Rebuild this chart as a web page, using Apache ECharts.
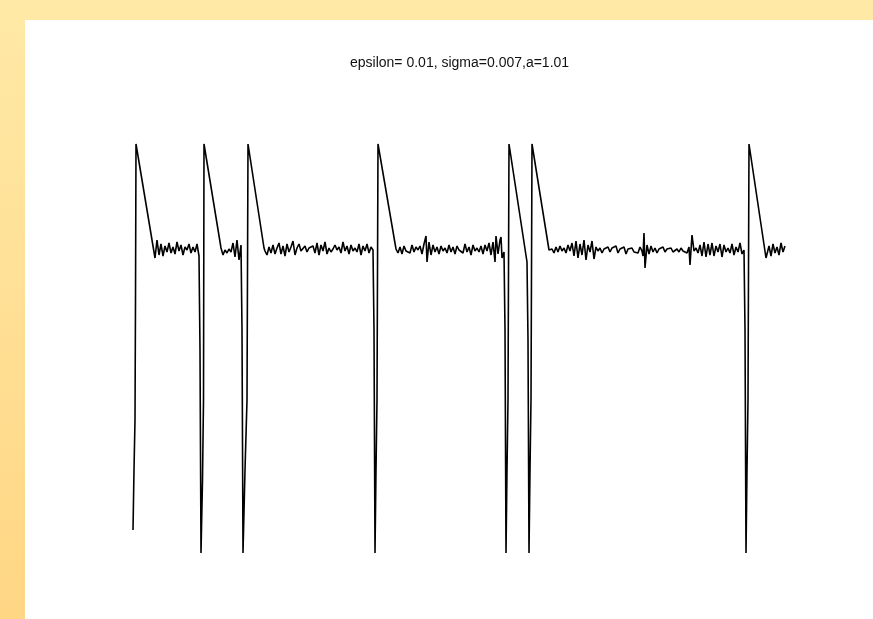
<!DOCTYPE html>
<html>
<head>
<meta charset="utf-8">
<script src="https://cdn.jsdelivr.net/npm/echarts@6/dist/echarts.min.js"></script>
<style>
  html, body { margin: 0; padding: 0; }
  body { width: 873px; height: 619px; background: linear-gradient(to bottom, #ffe9a6, #ffd684); position: relative; overflow: hidden; }
  .paper { position: absolute; left: 25px; top: 20px; right: 0; bottom: 0; background: #fff; }
  #chart { position: absolute; left: 0; top: 0; width: 873px; height: 619px; }
</style>
</head>
<body>
<div class="paper"></div>
<div id="chart"></div>
<script>
// time steps and membrane variable
const time = [
  0, 1, 2, 2.5, 3, 20,
  22, 24, 26, 28, 30, 32, 34, 36, 38, 40, 42, 44, 46, 48, 50, 52, 54, 56, 58, 60, 62, 64, 66,
  67, 68, 69.5, 70.5, 71, 88,
  90, 92, 94, 96, 98, 100, 102, 104, 106, 108,
  109, 110, 112, 114, 115, 131,
  132, 134, 136, 138, 140, 142, 144, 146, 148, 150, 152, 154, 156, 158, 160, 162, 164, 166, 168, 170,
  172, 174, 176, 178, 180, 182, 184, 186, 188, 190, 192, 194, 196, 198, 200, 202, 204, 206, 208, 210,
  212, 214, 216, 218, 220, 222, 224, 226, 228, 230, 232, 234, 236, 238, 240,
  241, 242, 243, 244, 245, 263,
  265, 267, 269, 271, 273, 275, 277, 279, 281, 283, 285, 287, 289, 291, 293, 294, 296, 298, 300, 302,
  304, 306, 308, 310, 312, 314, 316, 318, 320, 322, 324, 326, 328, 330, 332, 334, 336, 338, 340, 342,
  344, 346, 348, 350, 352, 354, 356, 358, 360, 362, 363, 365, 367, 368, 369, 371,
  372, 373, 374, 375, 376, 394,
  395, 396, 397, 398, 399, 416,
  419, 421, 423, 425, 427, 429, 431, 433, 435, 437, 439, 441, 443, 445, 447, 449, 451, 453, 455, 457,
  459, 461, 463, 465, 467, 469, 471, 473, 475, 477, 479, 481, 483, 485, 487, 489, 491, 493, 495, 497,
  499, 501, 503, 505, 507, 509, 510, 511, 512, 514, 516, 518, 520, 522, 524, 526, 528, 530, 532, 534,
  536, 538, 540, 542, 544, 546, 548, 550, 552, 554, 556, 557, 559, 561, 563, 565, 567, 569, 571, 573,
  575, 577, 579, 581, 583, 585, 587, 589, 591, 593, 595, 597, 599, 601, 603, 605, 607, 609, 611,
  612, 613, 614, 615, 616, 633,
  636, 638, 640, 642, 644, 646, 648, 650, 652
];
const u = [
  -1.80, -1.20, -0.70, 0.50, 2.06, 1.04,
  0.92, 1.10, 0.95, 1.06, 0.94, 1.04, 0.98, 1.07, 0.97, 1.03, 0.96, 1.08, 0.99, 1.05, 0.95, 1.03, 1.00, 1.06, 0.97, 1.03, 0.98, 1.06, 0.94,
  0.00, -2.03, -1.30, -0.50, 2.06, 1.02,
  0.95, 1.00, 0.97, 1.01, 0.98, 1.07, 0.93, 1.10, 0.90, 1.05,
  0.20, -2.03, -1.20, -0.50, 2.06, 1.02,
  0.99, 0.95, 1.03, 0.97, 1.05, 0.96, 1.02, 1.07, 0.96, 1.04, 0.94, 1.06, 0.98, 1.03, 1.09, 0.95, 1.02, 1.06, 0.99, 1.01,
  1.04, 0.98, 1.02, 1.00, 1.04, 0.97, 1.07, 0.95, 1.05, 0.99, 1.08, 0.96, 1.02, 0.98, 1.01, 1.05, 1.00, 1.03, 0.97, 1.08,
  0.99, 1.04, 0.96, 1.05, 0.99, 1.02, 0.98, 1.06, 0.95, 1.04, 0.99, 1.06, 0.97, 1.03, 1.00,
  0.20, -2.03, -1.20, -0.50, 2.06, 1.01,
  0.97, 1.03, 0.96, 1.04, 0.99, 1.01, 0.97, 1.05, 0.98, 1.03, 1.00, 1.04, 0.96, 1.06, 1.14, 0.88, 1.08, 0.95, 1.05, 0.98,
  1.03, 0.96, 1.04, 0.99, 1.02, 0.97, 1.05, 0.98, 1.03, 0.96, 1.04, 1.00, 1.02, 0.97, 1.06, 0.98, 1.03, 0.95, 1.05, 0.99,
  1.02, 0.98, 1.04, 0.96, 1.05, 0.99, 1.07, 0.95, 1.08, 0.88, 1.14, 0.96, 1.10, 1.13, 0.92, 0.98,
  0.20, -2.03, -1.20, -0.50, 2.06, 0.88,
  0.10, -2.03, -1.20, -0.50, 2.06, 1.00,
  1.01, 0.97, 1.03, 0.98, 1.04, 0.99, 1.02, 0.97, 1.05, 0.99, 1.07, 0.94, 1.09, 0.92, 1.06, 0.95, 1.10, 0.90, 1.05, 0.98,
  1.09, 0.91, 1.03, 0.99, 1.02, 0.97, 1.01, 0.99, 1.03, 0.98, 1.02, 1.00, 1.04, 0.97, 1.01, 0.99, 1.03, 0.96, 1.01, 0.99,
  1.02, 0.98, 1.00, 0.97, 1.03, 0.99, 0.94, 1.17, 0.82, 1.05, 0.96, 1.04, 0.98, 1.02, 0.97, 1.01, 0.99, 1.03, 0.98, 1.01,
  0.99, 1.02, 0.98, 1.00, 1.01, 0.98, 1.02, 0.99, 1.01, 0.97, 1.03, 0.85, 1.15, 0.99, 1.02, 0.97, 1.05, 0.94, 1.08, 0.93,
  1.06, 0.95, 1.07, 0.94, 1.04, 0.98, 1.06, 0.93, 1.05, 0.98, 1.02, 0.97, 1.06, 0.95, 1.03, 0.98, 1.07, 0.96, 1.00,
  0.20, -2.03, -1.20, -0.50, 2.06, 0.92,
  1.04, 0.94, 1.06, 0.97, 1.03, 0.95, 1.07, 0.98, 1.04
];
const titleText = 'epsilon= 0.01, sigma=0.007,a=1.01';

let chart = echarts.init(document.getElementById('chart'))
chart.setOption({
  animation: false,
  title: {
    text: titleText,
    left: 345,
    top: 51,
    textStyle: {
      fontFamily: 'Liberation Sans, Arial, sans-serif',
      fontSize: 14,
      fontWeight: 'normal',
      color: '#111'
    }
  },
  grid: {
    left: 133,
    top: 140,
    width: 660,
    height: 420
  },
  xAxis: {
    type: 'value',
    min: 0,
    max: 660,
    show: false
  },
  yAxis: {
    type: 'value',
    min: -2.1,
    max: 2.1,
    show: false
  },
  series: [
    {
      type: 'line',
      data: time.map((t, i) => [t, u[i]]),
      showSymbol: false,
      lineStyle: {
        color: '#000',
        width: 1.6
      }
    }
  ]
})
</script>
</body>
</html>
